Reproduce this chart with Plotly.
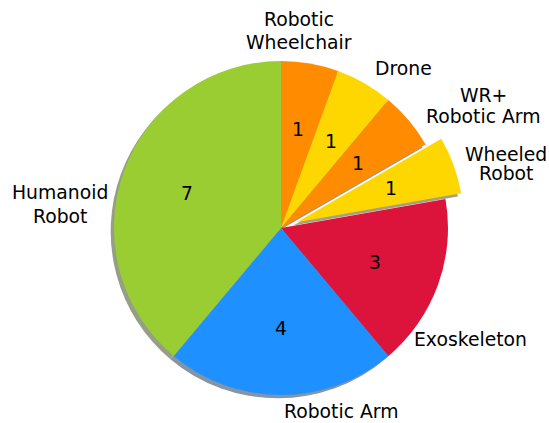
import math
import plotly.graph_objects as go

# Robot types and how many projects use each
labels = ["Robotic\nWheelchair", "Drone", "WR+\nRobotic Arm", "Wheeled\nRobot",
          "Exoskeleton", "Robotic Arm", "Humanoid\nRobot"]
counts = [1, 1, 1, 1, 3, 4, 7]
colors = ["#FF8C00", "#FFD700", "#FF8C00", "#FFD700", "#DC143C", "#1E90FF", "#9ACD32"]
explode = [0, 0, 0, 0.1, 0, 0, 0]

# Figure geometry (pixels, origin top-left)
W, H = 549, 423
CX, CY, R = 281, 228, 167
SHADOW_DX, SHADOW_DY = -3.3, 3.3
FONT = dict(family="DejaVu Sans", size=18.8, color="black")

# Label placement: block centre x, first-line centre y, line step
label_layout = [(299, 20, 22), (403.5, 68, 0), (483, 95.5, 21), (506, 154, 20),
                (470.5, 339.5, 0), (341, 411.5, 0), (60, 192, 25)]


def pie_domain(cx, cy):
    half = R * (1 + max(explode))
    return dict(x=[(cx - half) / W, (cx + half) / W],
                y=[1 - (cy + half) / H, 1 - (cy - half) / H])


def shadow_color(hex_color):
    c = [int(hex_color[i:i + 2], 16) for i in (1, 3, 5)]
    s = [round(0.5 * 255 + 0.5 * 0.3 * v) for v in c]
    return "rgb({},{},{})".format(*s)


fig = go.Figure()

# Drop shadow underneath the pie
fig.add_trace(go.Pie(
    values=counts, labels=labels, sort=False, direction="clockwise", rotation=0,
    pull=explode, marker=dict(colors=[shadow_color(c) for c in colors], line=dict(width=0)),
    textinfo="none", hoverinfo="skip", showlegend=False,
    domain=pie_domain(CX + SHADOW_DX, CY + SHADOW_DY),
))

# Main pie
fig.add_trace(go.Pie(
    values=counts, labels=labels, sort=False, direction="clockwise", rotation=0,
    pull=explode, marker=dict(colors=colors, line=dict(width=0)),
    textinfo="none", showlegend=False,
    domain=pie_domain(CX, CY),
))

annotations = []
total = sum(counts)
start = 90.0
for v, p in zip(counts, explode):
    span = 360.0 * v / total
    mid = math.radians(start - span / 2)
    start -= span
    ox = CX + p * R * math.cos(mid)
    oy = CY - p * R * math.sin(mid)
    x = ox + 0.6 * R * math.cos(mid)
    y = oy - 0.6 * R * math.sin(mid)
    annotations.append(dict(x=x / W, y=1 - y / H, xref="paper", yref="paper",
                            text=str(v), showarrow=False, font=FONT,
                            xanchor="center", yanchor="middle"))

for text, (lx, ly, step) in zip(labels, label_layout):
    for i, line in enumerate(text.split("\n")):
        annotations.append(dict(x=lx / W, y=1 - (ly + i * step) / H, xref="paper", yref="paper",
                                text=line, showarrow=False, font=FONT,
                                xanchor="center", yanchor="middle"))

fig.update_layout(
    width=W, height=H, margin=dict(l=0, r=0, t=0, b=0),
    paper_bgcolor="white", plot_bgcolor="white",
    annotations=annotations,
)

fig.write_html("out.html")
